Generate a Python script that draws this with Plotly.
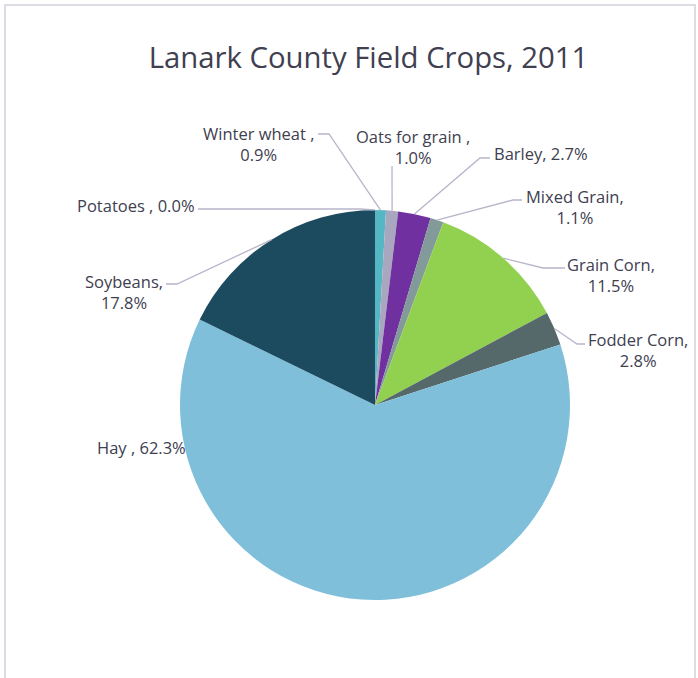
import math
import plotly.graph_objects as go

# ---- data ----
crops = ["Winter wheat ", "Oats for grain ", "Barley", "Mixed Grain", "Grain Corn",
         "Fodder Corn", "Hay ", "Soybeans", "Potatoes "]
shares = [0.9, 1.0, 2.7, 1.1, 11.5, 2.8, 62.3, 17.8, 0.0]
two_line = [True, True, False, True, True, True, False, True, False]
colors = ["#55B7C3", "#A9A7BF", "#7030A0", "#829A9A", "#92D050",
          "#55686A", "#7FBFDA", "#1C4A5E", "#F2A93B"]
title = "Lanark County Field Crops, 2011"

# ---- layout (pixels, page coordinates) ----
W, H = 698, 678
CX, CY, R = 375, 405, 195
# text centre of each label
label_xy = [(258, 143.5), (413, 147), (541, 153), (575, 207), (611, 275),
            (638, 349.5), (141, 447), (124, 291.5), (136, 205)]
# where each leader line meets its label, and the elbow point
line_end = [(318, 134), (392, 166), (490, 158), (522, 200), (565, 268),
            (585, 344), None, (166, 284), (198, 209)]
line_elbow = [(329, 134), (392, 166), (480, 158), (513, 200), (543, 268),
              (577, 344), None, (177, 284), (360, 209)]

TEXT = "#404050"
LINE = "#B8B5CA"
FONT = "Open Sans"


def px(x):
    return x / W


def py(y):
    return 1 - y / H


fig = go.Figure(go.Pie(
    labels=crops, values=shares, sort=False, direction="clockwise", rotation=0,
    marker=dict(colors=colors, line=dict(width=0)),
    textinfo="none", hoverinfo="label+percent", showlegend=False,
    domain=dict(x=[px(CX - R), px(CX + R)], y=[py(CY + R), py(CY - R)]),
))

total = sum(shares)
cum = 0.0
shapes = []
annotations = []
for i, (name, v) in enumerate(zip(crops, shares)):
    mid = (cum + v / 2) / total
    cum += v
    th = 2 * math.pi * mid
    ax_, ay_ = CX + R * math.sin(th), CY - R * math.cos(th)
    sep = "<br>" if two_line[i] else " "
    text = f"{name},{sep}{v:.1f}%"
    lx, ly = label_xy[i]
    annotations.append(dict(x=px(lx), y=py(ly), xref="paper", yref="paper",
                            text=text, showarrow=False, align="center",
                            xanchor="center", yanchor="middle",
                            font=dict(family=FONT, size=16.5, color=TEXT)))
    if line_end[i] is not None:
        ex, ey = line_end[i]
        bx, by = line_elbow[i]
        path = f"M{px(ax_)},{py(ay_)} L{px(bx)},{py(by)} L{px(ex)},{py(ey)}"
        shapes.append(dict(type="path", path=path, xref="paper", yref="paper",
                           line=dict(color=LINE, width=1.3)))

# frame
shapes.append(dict(type="rect", xref="paper", yref="paper",
                   x0=px(5), x1=px(695), y0=-0.05, y1=py(5),
                   line=dict(color="#DCDCE4", width=2)))

fig.update_layout(
    width=W, height=H, margin=dict(l=0, r=0, t=0, b=0),
    paper_bgcolor="white", plot_bgcolor="white",
    title=dict(text=title, x=px(368.5), xanchor="center", xref="paper",
               y=py(58), yanchor="middle", yref="container",
               font=dict(family=FONT, size=29.3, color=TEXT)),
    shapes=shapes, annotations=annotations,
)

fig.write_html("out.html", config={"displayModeBar": False},
               post_script="document.body.style.margin='0';"
                           "document.body.style.overflow='hidden';")
